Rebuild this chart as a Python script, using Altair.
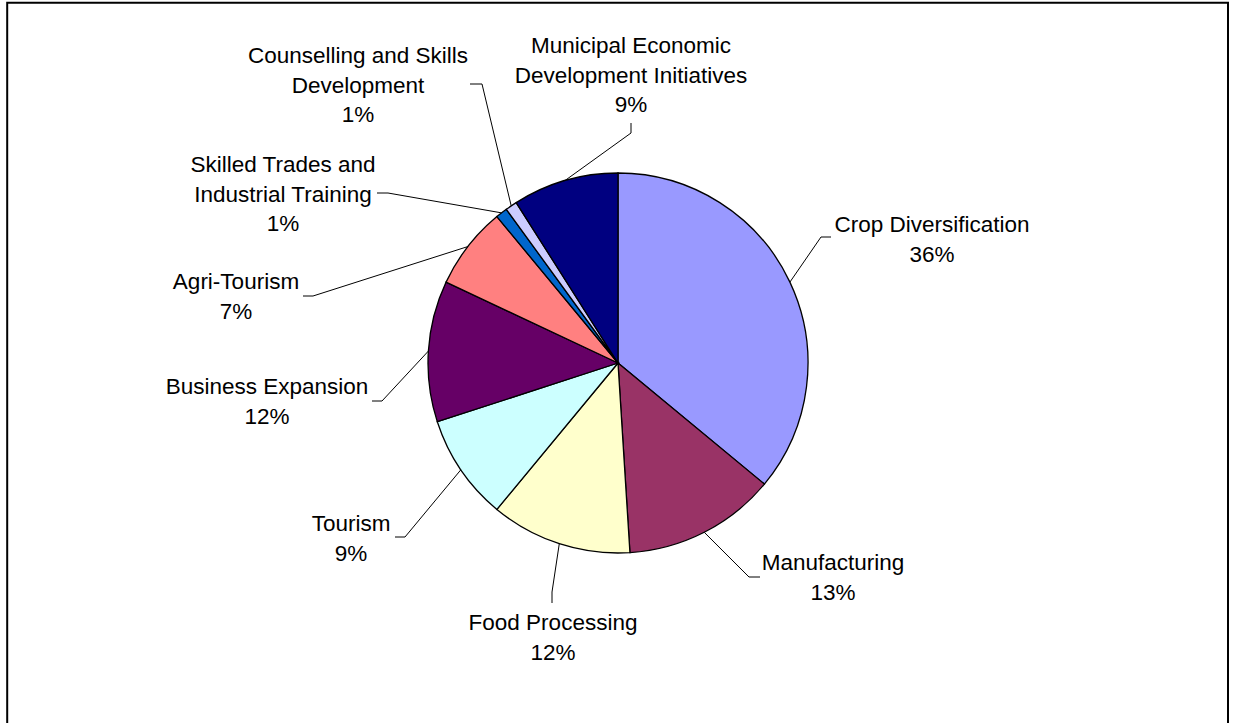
import math

import altair as alt
import pandas as pd

# --- data -----------------------------------------------------------------
categories = [
    "Crop Diversification",
    "Manufacturing",
    "Food Processing",
    "Tourism",
    "Business Expansion",
    "Agri-Tourism",
    "Skilled Trades and Industrial Training",
    "Counselling and Skills Development",
    "Municipal Economic Development Initiatives",
]
shares = [36, 13, 12, 9, 12, 7, 1, 1, 9]
colors = [
    "#9999FF", "#993366", "#FFFFCC", "#CCFFFF", "#660066",
    "#FF8080", "#0066CC", "#CCCCFF", "#000080",
]
label_text = [
    ["Crop Diversification"],
    ["Manufacturing"],
    ["Food Processing"],
    ["Tourism"],
    ["Business Expansion"],
    ["Agri-Tourism"],
    ["Skilled Trades and", "Industrial Training"],
    ["Counselling and Skills", "Development"],
    ["Municipal Economic", "Development Initiatives"],
]

# --- layout ---------------------------------------------------------------
W, H = 1233, 723
CX, CY = 618, 363          # pie centre in the canvas
R = 190                    # pie radius
LINE_H = 29.5              # spacing between label lines
FONT = "Liberation Sans"

# callout layout, offsets from the pie centre (y grows downward):
# centre of the first label line, bend of the leader, leader end next to the label
label_anchor = [(314, -138), (215, 200), (-65, 260), (-267, 161), (-351, 24),
                (-382, -81), (-335, -198), (-260, -307), (13, -317)]
leader_bend = [(203, -126), (131, 214), (-66, 229), (-213, 174), (-236, 38),
               (-305, -67), (-230, -170), (-136, -279), (13, -230)]
leader_end = [(213, -126), (142, 214), (-66, 240), (-223, 174), (-246, 38),
              (-315, -67), (-241, -170), (-148, -279), (13, -240)]

total = sum(shares)

slices = pd.DataFrame({"category": categories, "share": shares,
                       "idx": list(range(len(categories)))})

# label rows: one row per text line, percentage as the last line
label_rows = []
for i, (cat, lines, v) in enumerate(zip(categories, label_text, shares)):
    pct = f"{round(v / total * 100)}%"
    ax, ay = label_anchor[i]
    for k, line in enumerate(lines + [pct]):
        label_rows.append({"category": cat, "text": line, "lx": ax, "ly": ay + k * LINE_H})
labels = pd.DataFrame(label_rows)

# leader lines start on the rim at the middle angle of each slice
leader_rows = []
cum = 0.0
for i, (cat, v) in enumerate(zip(categories, shares)):
    mid = (cum + v / 2) / total * 2 * math.pi
    cum += v
    start = (R * math.sin(mid), -R * math.cos(mid))
    for k, (px, py) in enumerate([start, leader_bend[i], leader_end[i]]):
        leader_rows.append({"category": cat, "pt": k, "lx": px, "ly": py})
leaders = pd.DataFrame(leader_rows)

xs = alt.Scale(domain=[-CX, W - CX], nice=False, zero=False)
ys = alt.Scale(domain=[-CY, H - CY], reverse=True, nice=False, zero=False)

pie = alt.Chart(slices).mark_arc(radius=R, stroke="black", strokeWidth=1.3).encode(
    theta=alt.Theta("share:Q", stack=True),
    order=alt.Order("idx:Q"),
    color=alt.Color("category:N", scale=alt.Scale(domain=categories, range=colors),
                    legend=None),
    x=alt.value(CX),
    y=alt.value(CY),
)

lead = alt.Chart(leaders).mark_line(color="black", strokeWidth=1).encode(
    x=alt.X("lx:Q", scale=xs, axis=None),
    y=alt.Y("ly:Q", scale=ys, axis=None),
    detail="category:N",
    order="pt:Q",
)

text = alt.Chart(labels).mark_text(
    font=FONT, fontSize=22.5, color="black", align="center", baseline="middle"
).encode(
    x=alt.X("lx:Q", scale=xs, axis=None),
    y=alt.Y("ly:Q", scale=ys, axis=None),
    text="text:N",
)

frame = alt.Chart(pd.DataFrame({"k": [0]})).mark_rect(
    filled=False, stroke="black", strokeWidth=2
).encode(
    x=alt.value(7.2), x2=alt.value(1228), y=alt.value(2.7), y2=alt.value(760)
)

chart = (
    alt.layer(pie, lead, text, frame)
    .properties(width=W, height=H, padding=0, autosize="none", background="white")
    .configure_view(strokeWidth=0)
)

chart.save("out.html", embed_options={"renderer": "svg", "actions": False})
